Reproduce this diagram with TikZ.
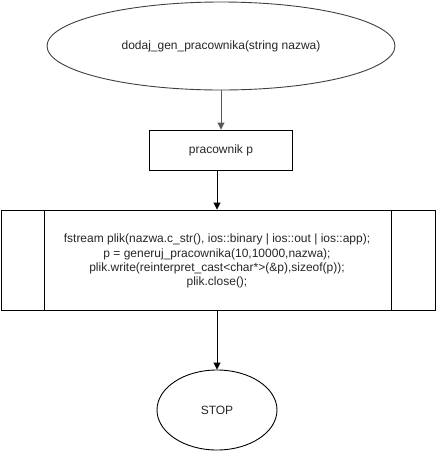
\documentclass[tikz,border=0pt]{standalone}
\usepackage{fontspec}
\setmainfont{Liberation Sans}
\usetikzlibrary{shapes.geometric,arrows.meta}
\begin{document}
\begin{tikzpicture}[x=1pt,y=-1pt,
  every node/.style={font=\fontsize{12}{14}\selectfont, text=black!85},
  box/.style={draw, line width=0.9pt, inner sep=0pt},
  arr/.style={draw, line width=0.9pt, -{Triangle[length=7pt,width=7pt]}}]
\useasboundingbox (0,0) rectangle (436,451);
\node[box, ellipse, draw=black!75, minimum width=348, minimum height=88] (start) at (221,46) {dodaj\_gen\_pracownika(string nazwa)};
\node[box, rectangle, minimum width=143, minimum height=40] (p) at (221,150) {pracownik p};
\node[box, rectangle, minimum width=434, minimum height=100] (proc) at (218,260) {};
\draw[line width=0.9pt] (44,210) -- (44,310) (391,210) -- (391,310);
\node[align=center, font=\fontsize{12}{14.2}\selectfont] (code) at (217,261) {fstream plik(nazwa.c\_str(), ios::binary | ios::out | ios::app);\\
p = generuj\_pracownika(10,10000,nazwa);\\
plik.write(reinterpret\_cast<char*>(\&p),sizeof(p));\\
plik.close();};
\node[box, ellipse, minimum width=120, minimum height=80] (stop) at (217,410) {STOP};
\coordinate (pout) at (p.south -| stop.north);
\coordinate (procin) at (proc.north -| stop.north);
\coordinate (procout) at (proc.south -| stop.north);
\draw[arr, draw=black!65] (start.south) -- (p.north);
\draw[arr] (pout) -- (procin);
\draw[arr] (procout) -- (stop.north);
\end{tikzpicture}
\end{document}
